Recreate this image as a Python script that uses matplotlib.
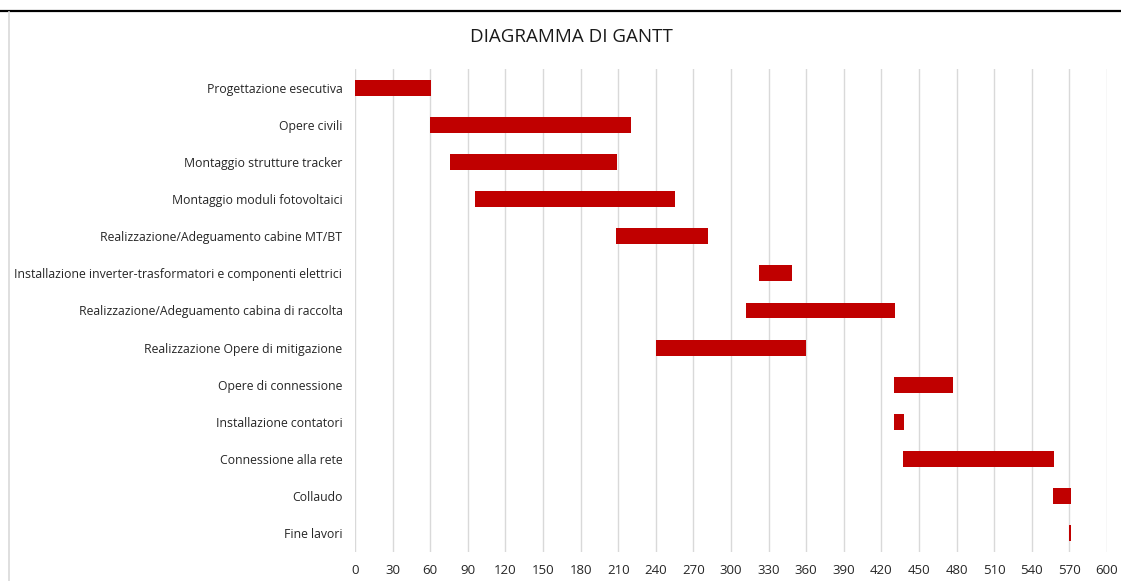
import matplotlib
matplotlib.use("Agg")
import matplotlib.pyplot as plt
from matplotlib.lines import Line2D

tasks = [
    "Progettazione esecutiva",
    "Opere civili",
    "Montaggio strutture tracker",
    "Montaggio moduli fotovoltaici",
    "Realizzazione/Adeguamento cabine MT/BT",
    "Installazione inverter-trasformatori e componenti elettrici",
    "Realizzazione/Adeguamento cabina di raccolta",
    "Realizzazione Opere di mitigazione",
    "Opere di connessione",
    "Installazione contatori",
    "Connessione alla rete",
    "Collaudo",
    "Fine lavori",
]
start = [0, 60, 76, 96, 208, 322, 312, 240, 430, 430, 437, 557, 570]
duration = [61, 160, 133, 159, 74, 27, 119, 120, 47, 8, 121, 14, 1]
xticks = list(range(0, 601, 30))

plt.rcParams['font.family'] = ['Open Sans', 'DejaVu Sans']

W, H = 1121, 581
fig = plt.figure(figsize=(W / 100, H / 100), dpi=100)
ax = fig.add_axes([355 / W, 1 - 552 / H, (1107 - 355) / W, (552 - 69) / H])

ypos = list(range(len(tasks)))
ax.barh(ypos, duration, left=start, height=0.43, color="#C00000", zorder=3)

ax.set_xlim(0, 600)
ax.set_ylim(len(tasks) - 0.5, -0.5)
ax.set_xticks(xticks)
ax.set_xticklabels([str(t) for t in xticks], fontsize=9.5, color="#262626")
ax.set_yticks(ypos)
ax.set_yticklabels(tasks, fontsize=8.8, color="#262626")
ax.tick_params(axis="y", length=0, pad=9)
ax.tick_params(axis="x", length=0, pad=9)
ax.grid(axis="x", color="#D9D9D9", linewidth=1, zorder=0)
for s in ax.spines.values():
    s.set_visible(False)

fig.text(571 / W, 1 - 37 / H, "DIAGRAMMA DI GANTT", ha="center", va="center",
         fontsize=13.5, color="#1a1a1a")

fig.add_artist(Line2D([0, 1], [1 - 10.5 / H, 1 - 10.5 / H], transform=fig.transFigure,
                      color="black", linewidth=1.6))
fig.add_artist(Line2D([8.5 / W, 8.5 / W], [0, 1 - 12 / H], transform=fig.transFigure,
                      color="#D9D9D9", linewidth=1.2))

fig.savefig("out.png", dpi=100)
